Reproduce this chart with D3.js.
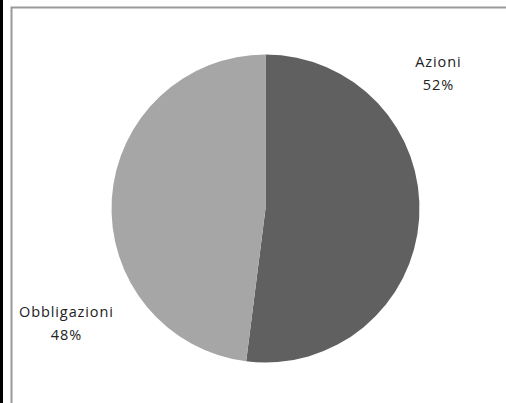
<!DOCTYPE html>
<html><head><meta charset="utf-8">
<script src="https://cdn.jsdelivr.net/npm/d3@7"></script>
<style>body{margin:0;background:#fff;}svg{display:block;}</style>
</head><body>
<svg id="c" width="506" height="403"></svg>
<script>
const categories = ["Azioni", "Obbligazioni"];
const values = [52, 48];
const colors = ["#606060", "#a6a6a6"];
const labelText = ["52%", "48%"];

const svg = d3.select("#c");
svg.append("rect").attr("x",0).attr("y",0).attr("width",506).attr("height",403).attr("fill","#fff");
// black edge at left
svg.append("rect").attr("x",0).attr("y",0).attr("width",3).attr("height",403).attr("fill","#000");
// gray frame lines
svg.append("path").attr("d","M11.5,403 V7.5 H506").attr("fill","none").attr("stroke","#9a9a9a").attr("stroke-width",2);

const cx = 265.5, cy = 208.5, r = 154;
const pie = d3.pie().sort(null).value(d => d)(values);
const arc = d3.arc().innerRadius(0).outerRadius(r);
const g = svg.append("g").attr("transform", `translate(${cx},${cy})`);
g.selectAll("path").data(pie).join("path")
  .attr("d", arc).attr("fill", (d,i) => colors[i]);

const labelPos = [[438, 62], [66, 312]];
const lg = svg.append("g").attr("font-family","Open Sans, Liberation Sans, sans-serif").attr("font-size",14.5).attr("letter-spacing","0.9px").attr("fill","#222").attr("text-anchor","middle");
categories.forEach((c,i) => {
  lg.append("text").attr("x",labelPos[i][0]+0.45).attr("y",labelPos[i][1]+4.5).text(c);
  lg.append("text").attr("x",labelPos[i][0]+0.45).attr("y",labelPos[i][1]+27.5).text(labelText[i]);
});
</script>
</body></html>
